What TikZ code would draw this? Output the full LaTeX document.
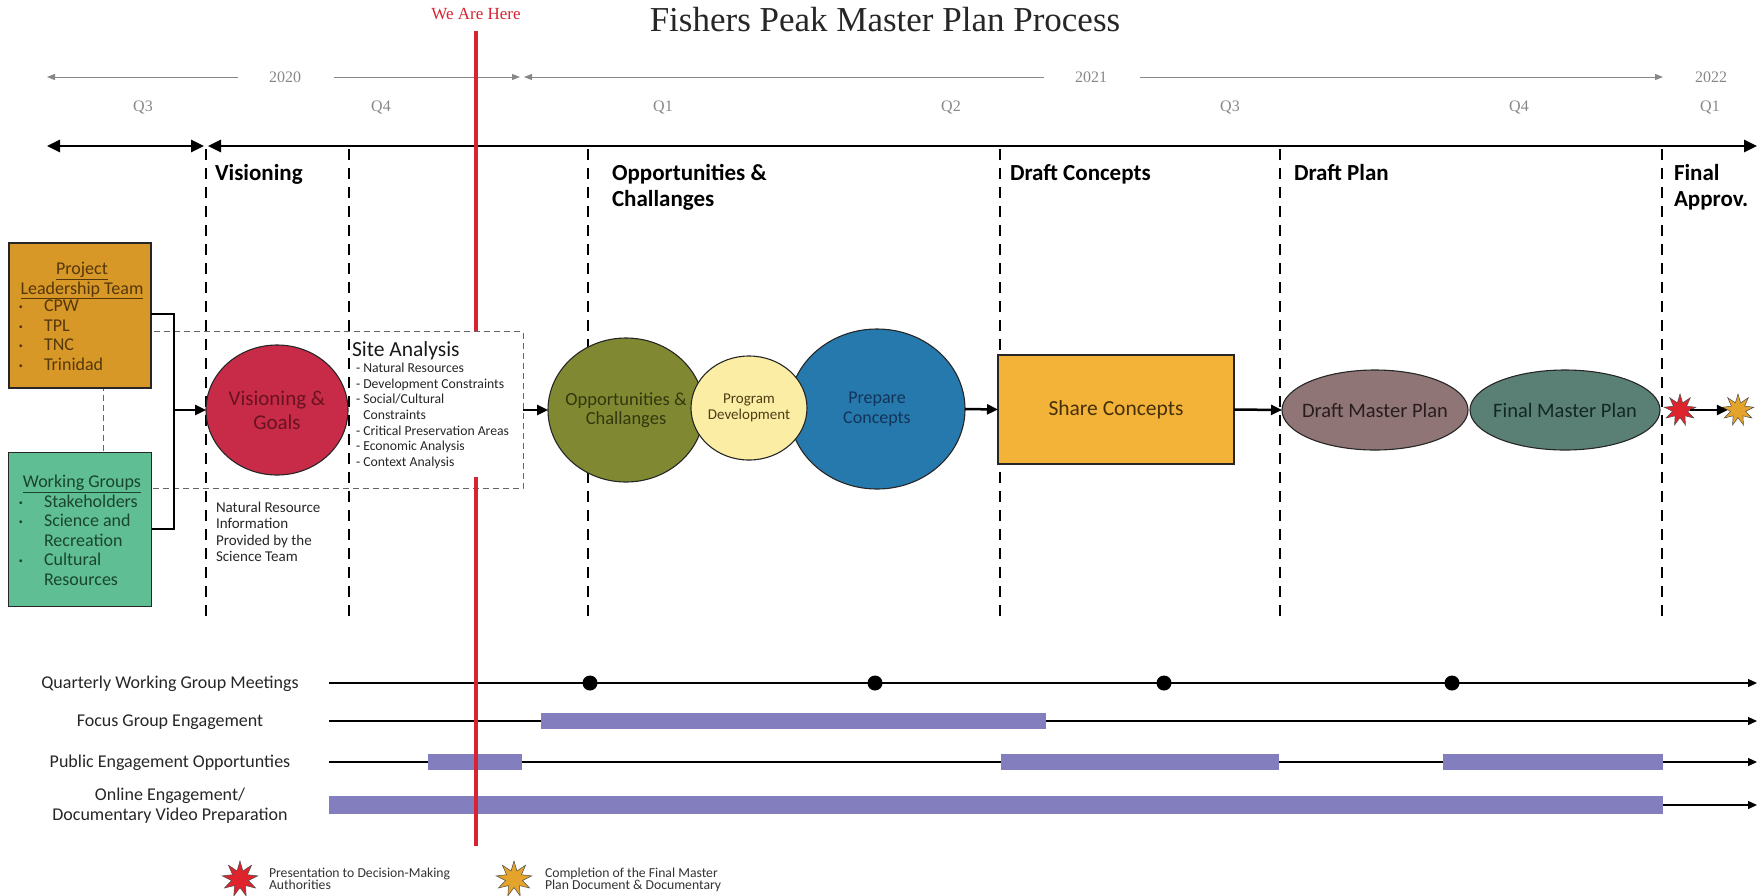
\documentclass[tikz,border=0pt]{standalone}
\usepackage{fontspec}
\setmainfont{Liberation Serif}
\setsansfont{Carlito}
\usetikzlibrary{arrows.meta,shapes.geometric}
\definecolor{pltc}{RGB}{216,152,40}
\definecolor{wgc}{RGB}{96,190,148}
\definecolor{visc}{RGB}{200,43,71}
\definecolor{oppc}{RGB}{128,137,50}
\definecolor{progc}{RGB}{252,237,165}
\definecolor{prepc}{RGB}{38,121,173}
\definecolor{sharec}{RGB}{243,178,56}
\definecolor{draftc}{RGB}{143,117,118}
\definecolor{finalc}{RGB}{90,127,117}
\definecolor{lavc}{RGB}{131,127,191}
\definecolor{redc}{RGB}{214,36,52}
\definecolor{starr}{RGB}{222,35,45}
\definecolor{starg}{RGB}{228,163,42}
\definecolor{grayt}{RGB}{135,135,135}
\definecolor{plttxt}{RGB}{85,55,10}
\definecolor{wgtxt}{RGB}{25,70,45}
\definecolor{vistxt}{RGB}{105,18,32}
\definecolor{opptxt}{RGB}{50,55,15}
\definecolor{progtxt}{RGB}{75,62,20}
\definecolor{preptxt}{RGB}{18,52,88}
\definecolor{sharetxt}{RGB}{70,48,8}
\definecolor{drafttxt}{RGB}{40,28,30}
\definecolor{finaltxt}{RGB}{18,40,35}
\newcommand{\bul}{\makebox[25pt][l]{\raisebox{2pt}{\fontsize{8}{8}\selectfont\textbullet}}}
\newcommand{\nobul}{\makebox[25pt][l]{}}
\begin{document}
\begin{tikzpicture}[x=1pt,y=-1pt,
  every node/.style={inner sep=0pt,outer sep=0pt},
  sertxt/.style={font=\fontsize{16}{18}\selectfont, text=grayt},
  phasehead/.style={anchor=base west, align=left, font=\sffamily\bfseries\fontsize{23}{26}\selectfont},
  phaseline/.style={line width=2.4pt, dash pattern=on 11pt off 8pt},
  timeln/.style={line width=2.8pt, >={Triangle[length=13pt,width=12pt]}},
  yearln/.style={line width=1pt, draw=grayt, >={Triangle[length=8pt,width=6pt]}},
  flow/.style={line width=2.5pt, ->, >={Triangle[length=11pt,width=10pt]}},
  track/.style={line width=1.3pt, ->, >={Triangle[length=9pt,width=8pt]}},
  bar/.style={fill=lavc, draw=none, anchor=west},
  shp/.style={draw=black!85, line width=1.1pt},
  boxtxt/.style={font=\sffamily\fontsize{18}{19.4}\selectfont},
  sitetxt/.style={anchor=base west, align=left, font=\sffamily\fontsize{13.7}{15.7}\selectfont},
  tracklab/.style={anchor=base, align=center, font=\sffamily\fontsize{18}{19.5}\selectfont, text=black!85},
  legtxt/.style={anchor=base west, align=left, font=\sffamily\fontsize{13.7}{12.4}\selectfont, text=black!80},
  burst/.style={star, star points=9, star point ratio=2.1, draw=black!70, line width=0.5pt}
]
\useasboundingbox (0,0) rectangle (1764,895);

% title
\node[font=\fontsize{35}{40}\selectfont, text=black!85] (title) at (885,20) {Fishers Peak Master Plan Process};
\node[font=\fontsize{17}{20}\selectfont, text=redc] (wah) at (476,14) {We Are Here};

% years
\node[sertxt] (y20) at (285,77) {2020};
\node[sertxt] (y21) at (1091,77) {2021};
\node[sertxt] (y22) at (1711,77) {2022};
\coordinate (ya1) at (47,77);   \coordinate (ya2) at (238,77);
\coordinate (ya3) at (334,77);  \coordinate (ya4) at (520,77);
\coordinate (ya5) at (524,77);  \coordinate (ya6) at (1044,77);
\coordinate (ya7) at (1140,77); \coordinate (ya8) at (1663,77);
\draw[yearln,<-] (ya1) -- (ya2);
\draw[yearln,->] (ya3) -- (ya4);
\draw[yearln,<-] (ya5) -- (ya6);
\draw[yearln,->] (ya7) -- (ya8);

% quarters
\node[sertxt] (q3a) at (143,107) {Q3};
\node[sertxt] (q4a) at (381,107) {Q4};
\node[sertxt] (q1b) at (663,107) {Q1};
\node[sertxt] (q2b) at (951,107) {Q2};
\node[sertxt] (q3b) at (1230,107) {Q3};
\node[sertxt] (q4b) at (1519,107) {Q4};
\node[sertxt] (q1c) at (1710,107) {Q1};

% main timeline
\coordinate (tl1) at (47,146); \coordinate (tl2) at (204,146);
\coordinate (tl3) at (208,146); \coordinate (tl4) at (1757,146);
\draw[timeln,<->] (tl1) -- (tl2);
\draw[timeln,<->] (tl3) -- (tl4);

% phase lines
\foreach \px in {206,349,588,1000,1280,1662}{
  \draw[phaseline] (\px,149) -- (\px,617);
}

% phase headers (base = last line)
\node[phasehead] (ph1) at (215,180) {Visioning};
\node[phasehead] (ph2) at (612,206) {Opportunities \&\\Challanges};
\node[phasehead] (ph3) at (1010,180) {Draft Concepts};
\node[phasehead] (ph4) at (1294,180) {Draft Plan};
\node[phasehead] (ph5) at (1674,206) {Final\\Approv.};

% dashed site analysis box
\node[draw=black!60, line width=1pt, dash pattern=on 6pt off 4pt, minimum width=420pt, minimum height=157pt] (sabox) at (313,410) {};

% left boxes
\node[shp, fill=pltc, minimum width=142pt, minimum height=145pt] (plt) at (80,315.5) {};
\node[shp, fill=wgc, minimum width=143pt, minimum height=154pt] (wg) at (80,529.5) {};
\node[boxtxt, text=plttxt, anchor=base, align=center] (plth) at (82,294) {\underline{Project}\\\underline{Leadership Team}};
\node[boxtxt, text=plttxt, anchor=base west, align=left] (pltl) at (19,370)
  {\bul CPW\\\bul TPL\\\bul TNC\\\bul Trinidad};
\node[boxtxt, text=wgtxt, anchor=base, align=center] (wgh) at (82,487.5) {\underline{Working Groups}};
\node[boxtxt, text=wgtxt, anchor=base west, align=left] (wgl) at (19,585)
  {\bul Stakeholders\\\bul Science and\\\nobul Recreation\\\bul Cultural\\\nobul Resources};

% bracket connector
\coordinate (bt) at (174,314);
\coordinate (bb) at (174,529);
\coordinate (bm) at (174,410);
\draw[line width=2.5pt] (plt.east |- bt) -- (bt) -- (bb) -- (wg.east |- bb);

% visioning
\node[shp, ellipse, fill=visc, minimum width=142pt, minimum height=130pt] (vis) at (277,410) {};
\node[align=center, text=vistxt, font=\sffamily\fontsize{21}{24}\selectfont] (vist) at (vis.center) {Visioning \&\\Goals};
\draw[flow] (bm) -- (vis.west);

% site analysis text
\node[anchor=base west, font=\sffamily\fontsize{21.5}{24}\selectfont, text=black!90] (sat) at (352,356.5) {Site Analysis};
\node[sitetxt, text=black!85] (sal) at (356,466.5)
  {- Natural Resources\\- Development Constraints\\- Social/Cultural\\\phantom{-\ }Constraints\\- Critical Preservation Areas\\- Economic Analysis\\- Context Analysis};
\node[anchor=base west, align=left, font=\sffamily\fontsize{15}{16.3}\selectfont, text=black!85] (nrt) at (216,561.5)
  {Natural Resource\\Information\\Provided by the\\Science Team};

% opportunities cluster
\node[shp, ellipse, fill=oppc, minimum width=156pt, minimum height=144pt] (opp) at (626,410) {};
\node[shp, ellipse, fill=prepc, minimum width=176pt, minimum height=160pt] (prep) at (877,409) {};
\node[shp, ellipse, fill=progc, minimum width=116pt, minimum height=104pt] (prog) at (749,408) {};
\node[text=opptxt, align=center, font=\sffamily\fontsize{18.5}{19.5}\selectfont] (oppt) at (opp.center) {Opportunities \&\\Challanges};
\node[text=progtxt, align=center, font=\sffamily\fontsize{15}{16}\selectfont] (progt) at (prog.center) {Program\\Development};
\node[text=preptxt, align=center, font=\sffamily\fontsize{18}{20}\selectfont] (prept) at (prep.center) {Prepare\\Concepts};
\draw[flow] (sabox.east) -- (opp.west);

% share concepts
\node[shp, fill=sharec, minimum width=236pt, minimum height=109pt] (share) at (1116,409.5) {};
\node[text=sharetxt, font=\sffamily\fontsize{21.5}{24}\selectfont] (sharet) at (share.center) {Share Concepts};
\draw[flow] (prep.east) -- (share.west);

% draft / final
\node[shp, ellipse, fill=draftc, minimum width=186pt, minimum height=80pt] (draft) at (1375,410) {};
\node[shp, ellipse, fill=finalc, minimum width=190pt, minimum height=80pt] (final) at (1565,410) {};
\node[text=drafttxt, font=\sffamily\fontsize{20.5}{22}\selectfont] (draftt) at (draft.center) {Draft Master Plan};
\node[text=finaltxt, font=\sffamily\fontsize{20.5}{22}\selectfont] (finalt) at (final.center) {Final Master Plan};
\draw[flow] (share.east) -- (draft.west);

% stars
\node[burst, fill=starr, minimum size=32pt] (rstar) at (1680,410) {};
\node[burst, fill=starg, minimum size=32pt] (gstar) at (1738,410) {};
\draw[flow] (rstar.east) -- (gstar.west);

% lower tracks
\node[tracklab] (lq) at (170,688.5) {Quarterly Working Group Meetings};
\node[tracklab] (lf) at (170,726.5) {Focus Group Engagement};
\node[tracklab] (lp) at (170,767.5) {Public Engagement Opportunties};
\node[tracklab] (lo) at (170,820) {Online Engagement/\\Documentary Video Preparation};
\coordinate (t1s) at (329,683); \coordinate (t1e) at (1757,683);
\coordinate (t2s) at (329,721); \coordinate (t2e) at (1757,721);
\coordinate (t3s) at (329,762); \coordinate (t3e) at (1757,762);
\coordinate (t4s) at (329,805); \coordinate (t4e) at (1757,805);
\draw[track] (t1s) -- (t1e);
\draw[track] (t2s) -- (t2e);
\draw[track] (t3s) -- (t3e);
\draw[track] (t4s) -- (t4e);
\foreach \dx/\nm in {590/d1,875/d2,1164/d3,1452/d4}{
  \node[circle, fill=black, minimum size=15pt] (\nm) at (\dx,683) {};
}
\node[bar, minimum width=505pt, minimum height=16pt] (bf) at (541,721) {};
\node[bar, minimum width=94pt, minimum height=16pt] (bp1) at (428,762) {};
\node[bar, minimum width=278pt, minimum height=16pt] (bp2) at (1001,762) {};
\node[bar, minimum width=220pt, minimum height=16pt] (bp3) at (1443,762) {};
\node[bar, minimum width=1334pt, minimum height=18pt] (bo) at (329,805) {};

% red line
\coordinate (r1) at (476,31); \coordinate (r2) at (476,331);
\coordinate (r3) at (476,477); \coordinate (r4) at (476,846);
\draw[redc, line width=4pt] (r1) -- (r2);
\draw[redc, line width=4pt] (r3) -- (r4);

% legend
\node[burst, fill=starr, minimum size=36pt] (lrs) at (240,879) {};
\node[legtxt] (lrt) at (269,889.5) {Presentation to Decision-Making\\Authorities};
\node[burst, fill=starg, minimum size=36pt] (lgs) at (514,879) {};
\node[legtxt] (lgt) at (545,889.5) {Completion of the Final Master\\Plan Document \& Documentary};
\end{tikzpicture}
\end{document}
